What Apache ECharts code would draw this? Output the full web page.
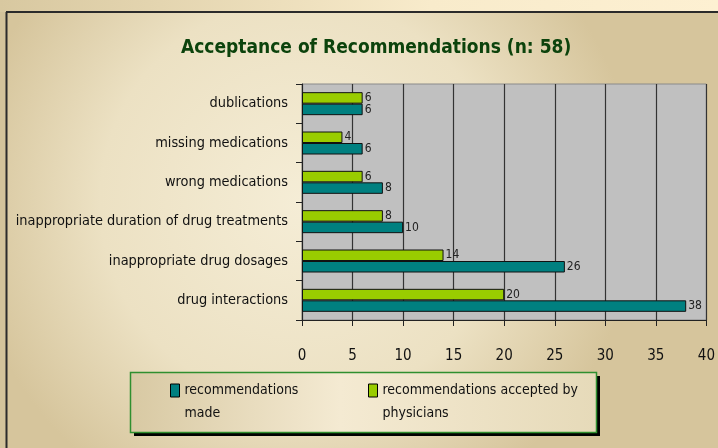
<!DOCTYPE html>
<html>
<head>
<meta charset="utf-8">
<script src="https://cdn.jsdelivr.net/npm/echarts@6/dist/echarts.min.js"></script>
<style>html,body{margin:0;padding:0;}#c{width:718px;height:448px;}</style>
</head>
<body>
<div id="c"></div>
<script>
var categories = ['drug interactions', 'inappropriate drug dosages', 'inappropriate duration of drug treatments', 'wrong medications', 'missing medications', 'dublications'];
var recommendationsMade = [38, 26, 10, 8, 6, 6];
var acceptedByPhysicians = [20, 14, 8, 6, 4, 6];
var xTicks = [0, 5, 10, 15, 20, 25, 30, 35, 40];
var titleText = 'Acceptance of Recommendations (n: 58)';
var seriesNames = ['recommendations made', 'recommendations accepted by physicians'];
var legendLabels = ['recommendations\nmade', 'recommendations accepted by\nphysicians'];

var FONT = '"DejaVu Sans Condensed", "Liberation Sans Narrow", "Arial Narrow", Arial, sans-serif';
var chart = echarts.init(document.getElementById('c'), null, {renderer: 'canvas'});

function legendFor(i, left) {
  return {
    data: [seriesNames[i]],
    left: left, top: 356, padding: 0,
    itemWidth: 9, itemHeight: 13, itemGap: 0,
    selectedMode: false,
    icon: 'rect',
    itemStyle: {borderColor: '#000', borderWidth: 1},
    formatter: function () { return '\n' + legendLabels[i]; },
    textStyle: {fontFamily: FONT, fontSize: 14, color: '#111', lineHeight: 23}
  };
}

chart.setOption({
  backgroundColor: {
    type: 'radial', x: 0.42, y: 0.45, r: 0.75,
    colorStops: [{offset: 0, color: '#f5edd6'}, {offset: 0.6, color: '#ece1c3'}, {offset: 1, color: '#d6c59c'}]
  },
  animation: false,
  title: {
    text: titleText, left: 176, top: 34,
    textStyle: {fontFamily: FONT, fontSize: 19, fontWeight: 'bold', color: '#0c430c'}
  },
  graphic: [
    {type: 'rect', z: -1, shape: {x: 0, y: 0, width: 718, height: 12},
     style: {fill: {type: 'linear', x: 0, y: 0, x2: 1, y2: 0, colorStops: [{offset: 0, color: '#d8c8a0'}, {offset: 0.6, color: '#f8ebcb'}, {offset: 1, color: '#fdf0d2'}]}}},
    {type: 'rect', z: -1, shape: {x: 0, y: 12, width: 6, height: 436}, style: {fill: '#d3c39b'}},
    {type: 'line', z: 1, shape: {x1: 6, y1: 12, x2: 718, y2: 12}, style: {stroke: '#2b2b2b', lineWidth: 2}},
    {type: 'line', z: 1, shape: {x1: 6.5, y1: 12, x2: 6.5, y2: 448}, style: {stroke: '#2b2b2b', lineWidth: 2}},
    {type: 'rect', z: 1, shape: {x: 134, y: 376, width: 466, height: 60}, style: {fill: '#000'}},
    {type: 'rect', z: 1, shape: {x: 130.5, y: 372.5, width: 466, height: 60},
     style: {
       fill: {type: 'linear', x: 0, y: 0, x2: 1, y2: 0, colorStops: [{offset: 0, color: '#d8c9a3'}, {offset: 0.45, color: '#f4ead2'}, {offset: 1, color: '#e6dab9'}]},
       stroke: '#2f8f2f', lineWidth: 1.5
     }}
  ],
  legend: [legendFor(0, 170), legendFor(1, 368)],
  grid: {
    left: 302, right: 10, top: 84, bottom: 128,
    show: true, backgroundColor: '#c0c0c0', borderColor: '#8a8a8a', borderWidth: 1
  },
  xAxis: {
    type: 'value', min: 0, max: 40, interval: 5,
    axisLine: {show: true, lineStyle: {color: '#222', width: 1}},
    axisTick: {show: true, length: 6, lineStyle: {color: '#222'}},
    splitLine: {show: true, lineStyle: {color: '#333', width: 1.2}},
    axisLabel: {
      margin: 29, fontFamily: FONT, fontSize: 15, color: '#111',
      formatter: function (v) { return xTicks.indexOf(v) >= 0 ? String(v) : ''; }
    }
  },
  yAxis: {
    type: 'category', data: categories,
    axisLine: {show: true, lineStyle: {color: '#222', width: 1}},
    axisTick: {show: true, length: 6, lineStyle: {color: '#222'}},
    axisLabel: {margin: 14, fontFamily: FONT, fontSize: 14.4, color: '#111'}
  },
  series: [
    {
      name: seriesNames[1], type: 'bar', data: acceptedByPhysicians,
      barWidth: 11.5, barGap: '0%',
      itemStyle: {color: '#99cc00', borderColor: '#111', borderWidth: 1},
      label: {show: true, position: 'right', distance: 2, fontFamily: FONT, fontSize: 12, color: '#222'}
    },
    {
      name: seriesNames[0], type: 'bar', data: recommendationsMade,
      barWidth: 11.5, barGap: '0%',
      itemStyle: {color: '#008080', borderColor: '#111', borderWidth: 1},
      label: {show: true, position: 'right', distance: 2, fontFamily: FONT, fontSize: 12, color: '#222'}
    }
  ]
});
</script>
</body>
</html>
